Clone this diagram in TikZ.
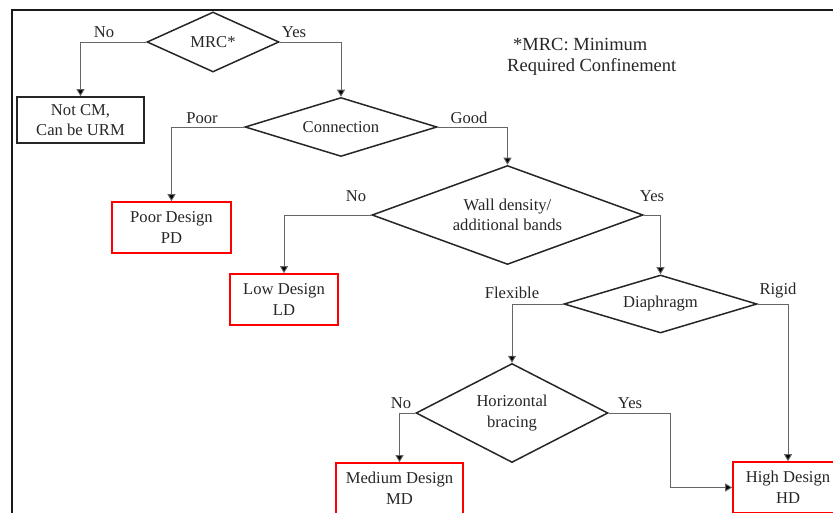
\documentclass[tikz,border=0pt]{standalone}
\usepackage{fontspec}
\setmainfont{Liberation Serif}
\usetikzlibrary{shapes.geometric,arrows.meta}
\begin{document}
\begin{tikzpicture}[x=1pt,y=-1pt,
  txt/.style={font=\fontsize{16.6}{20.5}\selectfont, text=black!85},
  dec/.style={diamond, draw=black!85, line width=1.5pt, inner sep=0pt, align=center, txt},
  outbox/.style={rectangle, draw=black!85, line width=1.6pt, inner sep=0pt, align=center, txt},
  redbox/.style={outbox, draw=red},
  conn/.style={draw=black!60, line width=0.9pt, -{Triangle[length=7pt,width=8pt,fill=black]}},
  lab/.style={txt, inner sep=0pt},
  notetxt/.style={lab, font=\fontsize{18.5}{22}\selectfont}
]
\useasboundingbox (0,0) rectangle (833,513);
\clip (0,0) rectangle (833,513);
% frame
\draw[line width=1.7pt, black!90] (12,513) -- (12,10) -- (833,10);

% decisions
\node[dec, minimum width=132pt, minimum height=60pt, aspect=2.2] (mrc) at (213,42) {MRC*};
\node[dec, minimum width=192pt, minimum height=59pt, aspect=3.25] (conn) at (341,127) {Connection};
\node[dec, minimum width=271pt, minimum height=99pt, aspect=2.74] (wall) at (507.5,215) {Wall density/\\additional bands};
\node[dec, minimum width=193pt, minimum height=58pt, aspect=3.33] (dia) at (660.5,304) {Diaphragm};
\node[dec, minimum width=192pt, minimum height=99pt, aspect=1.94] (hb) at (512,413) {Horizontal\\bracing};

% outcomes
\node[outbox, minimum width=127pt, minimum height=46pt] (notcm) at (80.5,120) {Not CM,\\Can be URM};
\node[redbox, minimum width=119pt, minimum height=51pt] (pd) at (171.5,227.5) {Poor Design\\PD};
\node[redbox, minimum width=108pt, minimum height=51pt] (ld) at (284,299.5) {Low Design\\LD};
\node[redbox, minimum width=127pt, minimum height=51pt] (md) at (399.5,488.5) {Medium Design\\MD};
\node[redbox, minimum width=110pt, minimum height=51pt] (hd) at (788,487.5) {High Design\\HD};

% note
\node[notetxt, anchor=west] (note1) at (513,45) {*MRC: Minimum};
\node[notetxt, anchor=west] (note2) at (507,67) {Required Confinement};

% connectors
\draw[conn] (mrc.west) -| (notcm.north);
\draw[conn] (mrc.east) -| (conn.north);
\draw[conn] (conn.west) -| (pd.north);
\draw[conn] (conn.east) -| (wall.north);
\draw[conn] (wall.west) -| (ld.north);
\draw[conn] (wall.east) -| (dia.north);
\draw[conn] (dia.west) -| (hb.north);
\draw[conn] (dia.east) -| (hd.north);
\draw[conn] (hb.west) -| (md.north);
\draw[conn] (hb.east) -- ++(62,0) |- (hd.west);

% branch labels
\node[lab] (l1) at (104,32) {No};
\node[lab] (l2) at (294,32) {Yes};
\node[lab] (l3) at (202,118) {Poor};
\node[lab] (l4) at (469,118) {Good};
\node[lab] (l5) at (356,196) {No};
\node[lab] (l6) at (652,196) {Yes};
\node[lab] (l7) at (512,293) {Flexible};
\node[lab] (l8) at (778,291) {Rigid};
\node[lab] (l9) at (401,403) {No};
\node[lab] (l10) at (630,403) {Yes};
\end{tikzpicture}
\end{document}
